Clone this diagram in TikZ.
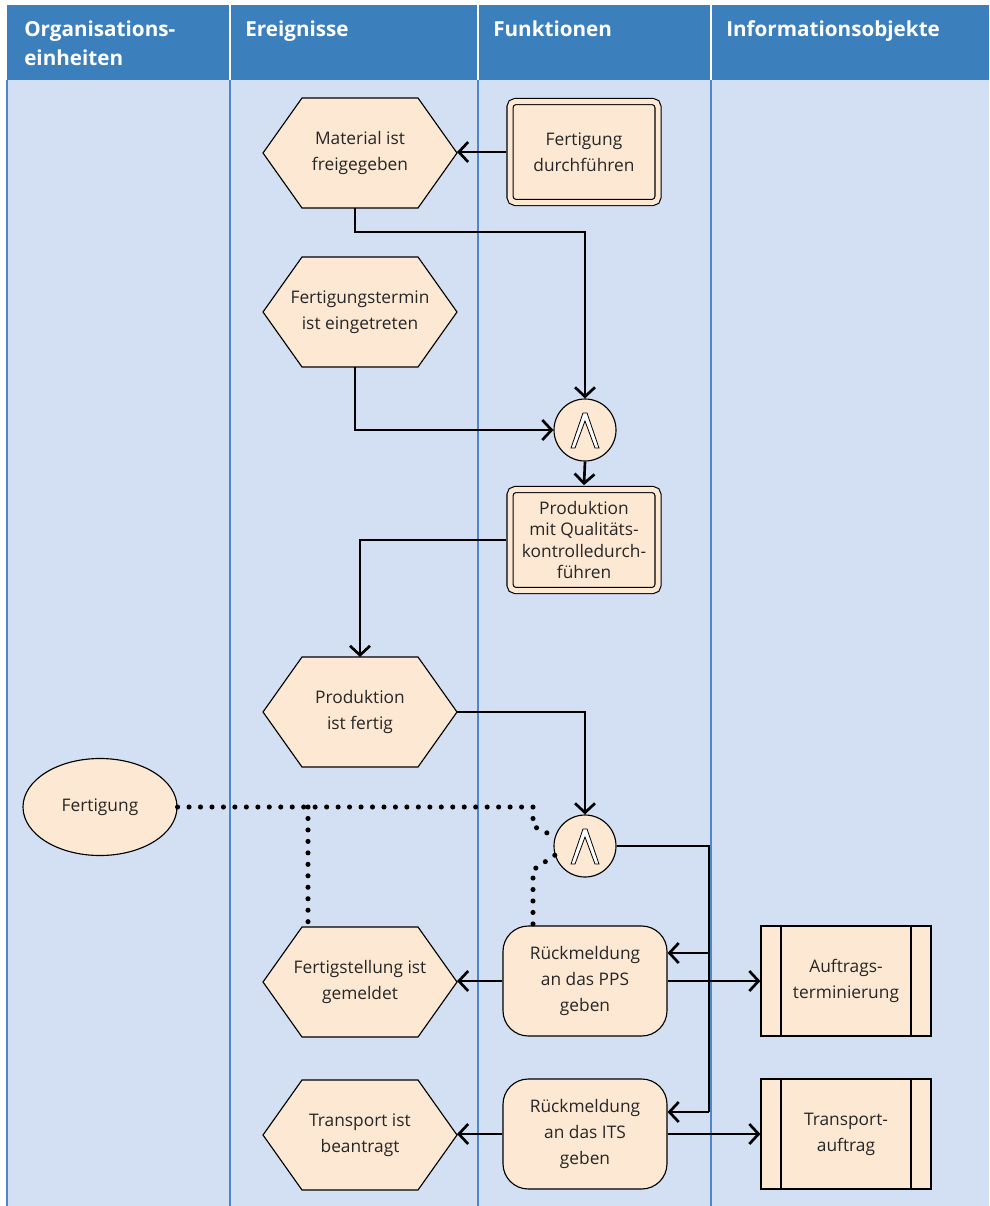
\documentclass[tikz,border=0pt]{standalone}
\usepackage{fontspec}
\setmainfont{Open Sans}
\usetikzlibrary{arrows.meta,shapes.geometric}

\definecolor{headblue}{RGB}{59,127,188}
\definecolor{lanebg}{RGB}{211,223,242}
\definecolor{laneline}{RGB}{79,136,200}
\definecolor{evtfill}{RGB}{253,233,211}
\definecolor{txtgray}{RGB}{38,38,38}

\pgfdeclarelayer{lanes}
\pgfdeclarelayer{shapes}
\pgfsetlayers{lanes,shapes,main}

\tikzset{
  txt/.style={text=txtgray, font=\fontsize{13}{19.5}\selectfont, align=center},
  head/.style={text=white, font=\bfseries\fontsize{15.5}{21}\selectfont, inner sep=0pt, align=left},
  evt/.style={txt, minimum width=145.5pt, minimum height=82.5pt, inner sep=0pt, outer sep=0pt},
  evtline/.style={draw=black, fill=evtfill, line width=0.85pt, line join=miter},
  fn/.style={txt, draw, fill=evtfill, double=evtfill, double distance=3.75pt, line width=0.85pt,
    rounded corners=4pt, minimum width=111pt, minimum height=75.75pt, inner sep=2pt, outer sep=3.3pt},
  act/.style={txt, draw, fill=evtfill, line width=0.85pt, rounded corners=19pt,
    minimum width=123pt, minimum height=82.5pt},
  info/.style={txt, draw, fill=evtfill, line width=0.85pt, minimum width=127.5pt, minimum height=82.5pt,
    path picture={
      \draw[line width=0.85pt] ([xshift=15pt]path picture bounding box.north west) -- ([xshift=15pt]path picture bounding box.south west);
      \draw[line width=0.85pt] ([xshift=-15pt]path picture bounding box.north east) -- ([xshift=-15pt]path picture bounding box.south east);
    }},
  org/.style={txt, ellipse, draw, fill=evtfill, line width=0.85pt, minimum width=115.5pt, minimum height=72.75pt},
  andc/.style={circle, draw, fill=evtfill, line width=0.85pt, minimum size=46.5pt, inner sep=0pt},
  line/.style={line width=2pt},
  flow/.style={line, -{Straight Barb[length=7pt,width=15pt]}},
  orgline/.style={line width=3.8pt, line cap=round, dash pattern=on 0pt off 8.6pt}
}

\begin{document}
\begin{tikzpicture}[x=0.75pt, y=-0.75pt]
  \useasboundingbox (0,0) rectangle (989,1206);

  % swimlanes
  \begin{pgfonlayer}{lanes}
    \fill[headblue] (7,5) rectangle (989,80);
    \fill[lanebg] (7,80) rectangle (989,1206);
    \draw[laneline, line width=1.2pt] (7,80) -- (7,1206);
    \foreach \x in {230,478,711} {
      \draw[white, line width=0.9pt] (\x,5) -- (\x,80);
      \draw[laneline, line width=0.9pt] (\x,80) -- (\x,1206);
    }
  \end{pgfonlayer}

  \node[head, anchor=base west] (hOrg) at (24,65) {Organisations-\\einheiten};
  \node[head, anchor=base west] (hEvt) at (245,37) {Ereignisse};
  \node[head, anchor=base west] (hFn) at (493,37) {Funktionen};
  \node[head, anchor=base west] (hInf) at (726,37) {Informationsobjekte};

  % events, functions, objects
  \node[fn] (fdurch) at (584,152) {Fertigung\\durchführen};
  \node[evt] (mat) at (360,153) {Material ist\\freigegeben};
  \node[evt] (term) at (360,312) {Fertigungstermin\\ist eingetreten};
  \node[andc] (and1) at (585,430) {};
  \node[fn, font=\fontsize{13}{16.2}\selectfont] (prd) at (584,540) {Produktion\\mit Qualitäts-\\kontrolledurch-\\führen};
  \node[evt] (prod) at (360,712) {Produktion\\ist fertig};
  \node[org] (fert) at (100,807) {Fertigung};
  \node[andc] (and2) at (585,846) {};
  \node[evt] (fst) at (360,982) {Fertigstellung ist\\gemeldet};
  \node[act] (rpps) at (585,981) {Rückmeldung\\an das PPS\\geben};
  \node[info] (auf) at (846,981) {Auftrags-\\terminierung};
  \node[evt] (trn) at (360,1135) {Transport ist\\beantragt};
  \node[act] (rits) at (585,1134) {Rückmeldung\\an das ITS\\geben};
  \node[info] (tauf) at (846,1134) {Transport-\\auftrag};

  \begin{pgfonlayer}{shapes}
    \foreach \n in {mat,term,prod,fst,trn}
      \draw[evtline] (\n.west) -- ([xshift=29.25pt]\n.north west) -- ([xshift=-29.25pt]\n.north east)
        -- (\n.east) -- ([xshift=-29.25pt]\n.south east) -- ([xshift=29.25pt]\n.south west) -- cycle;
  \end{pgfonlayer}

  % AND symbol
  \foreach \c in {and1,and2}
    \filldraw[fill=white, line width=0.6pt, line join=miter]
      ([shift={(-14,18)}]\c.center) -- ([shift={(-2,-17)}]\c.center) -- ([shift={(2,-17)}]\c.center)
      -- ([shift={(14,18)}]\c.center) -- ([shift={(10,18)}]\c.center) -- ([shift={(0,-9)}]\c.center)
      -- ([shift={(-10,18)}]\c.center) -- cycle;

  % control flow
  \draw[flow] (fdurch.west) -- (fdurch.west -| mat.east);
  \draw[flow] ([xshift=-3.75pt]mat.south) -- ++(0,24) -| (and1.north);
  \draw[flow] ([xshift=-3.75pt]term.south) |- (and1.west);
  \draw[flow] (and1.south) -- (prd.north);
  \draw[flow] (prd.west) -| (prod.north);
  \draw[flow] (prod.east) -| (and2.north);

  \coordinate (j1) at (709,846);
  \coordinate (j2) at (709,953);
  \coordinate (j3) at (709,1112);
  \draw[line] (and2.east) -- (j1) -- (j3);
  \draw[flow] (j2) -- (j2 -| rpps.east);
  \draw[flow] (j3) -- (j3 -| rits.east);

  \draw[flow] (rpps.west) -- (rpps.west -| fst.east);
  \draw[flow] (rpps.east) -- (auf.west);
  \draw[flow] (rits.west) -- (rits.west -| trn.east);
  \draw[flow] (rits.east) -- (tauf.west);

  % organisation unit
  \coordinate (d1) at (308,807);
  \coordinate (d2) at (533,807);
  \coordinate (d3) at (533,870);
  \draw[orgline] (fert.east) -- (d2) -- ++(0,19) -- (and2.163);
  \draw[orgline] (and2.197) -- (d3) -- (d3 |- rpps.north);
  \draw[orgline] (d1) -- (d1 |- fst.north);
\end{tikzpicture}
\end{document}
